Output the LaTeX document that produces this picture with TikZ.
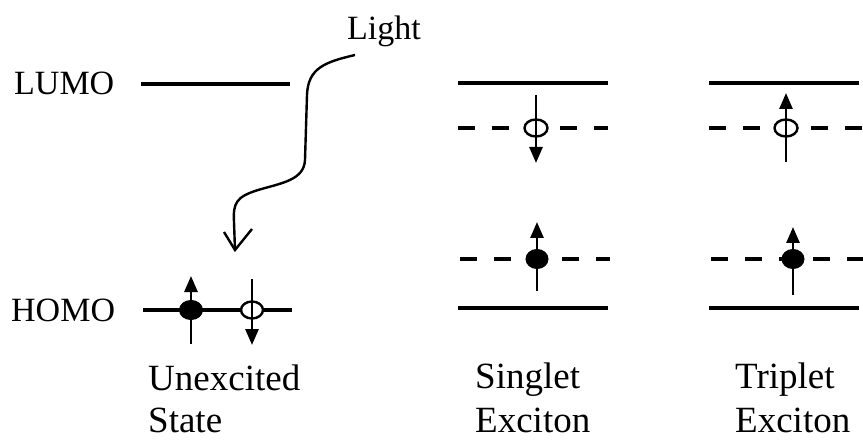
\documentclass[tikz,border=0pt]{standalone}
\usepackage{fontspec}
\setmainfont{Liberation Serif}
\usetikzlibrary{arrows.meta}
\tikzset{
  level/.style={line width=3.2pt},
  dlevel/.style={line width=3.2pt, dash pattern=on 17pt off 17pt},
  spin/.style={line width=2.8pt, -{Triangle[length=16pt,width=13pt]}},
  full/.style={fill=black, draw=black, line width=1pt},
  hole/.style={fill=white, draw=black, line width=2.4pt},
  lbl/.style={anchor=base west, inner sep=0pt, font=\fontsize{37}{42}\selectfont},
  side/.style={anchor=base west, inner sep=0pt, font=\fontsize{34}{40}\selectfont},
  photon/.style={line width=2.4pt}
}
\begin{document}
\begin{tikzpicture}[x=1pt,y=-1pt]
\useasboundingbox (0,0) rectangle (863,441);

% labels
\node[side] (lumo) at (14,95) {LUMO};
\node[side] (homo) at (11,321) {HOMO};
\node[anchor=base west, inner sep=0pt, font=\fontsize{34}{38}\selectfont] (light) at (347,40) {Light};

% unexcited state
\coordinate (l1a) at (141,84); \coordinate (l1b) at (290,84);
\coordinate (h1a) at (143,310); \coordinate (h1b) at (292,310);
\draw[level] (l1a) -- (l1b);
\draw[level] (h1a) -- (h1b);
\draw[full] (191,310) ellipse [x radius=11.5pt, y radius=9.5pt];
\coordinate (u1s) at (191,344); \coordinate (u1e) at (191,276);
\draw[spin] (u1s) -- (u1e);
\draw[hole] (252,310) ellipse [x radius=11pt, y radius=8.5pt];
\coordinate (d1s) at (252,279); \coordinate (d1e) at (252,345);
\draw[spin] (d1s) -- (d1e);

% light
\coordinate (ls) at (355,55);
\coordinate (lt) at (235,250);
\draw[photon] (ls) .. controls (325,62) and (308,68) .. (307,95)
  -- (305,160) .. controls (304,180) and (282,183) .. (258,190)
  .. controls (236,197) and (233,203) .. (234,222) -- (lt);
\coordinate (barbL) at (224,232); \coordinate (barbR) at (252,229);
\draw[photon] (barbL) -- (lt) -- (barbR);

\node[lbl] (un1) at (148,390) {Unexcited};
\node[lbl] (un2) at (148,432) {State};

% singlet
\draw[level] (458,83) -- (608,83);
\draw[dlevel] (458,128) -- (608,128);
\draw[dlevel] (460,259) -- (610,259);
\draw[level] (458,308) -- (608,308);
\draw[hole] (536,128) ellipse [x radius=11.5pt, y radius=8.5pt];
\coordinate (s1s) at (536,95); \coordinate (s1e) at (536,163);
\draw[spin] (s1s) -- (s1e);
\draw[full] (537,259) ellipse [x radius=11pt, y radius=9.5pt];
\coordinate (s2s) at (537,291); \coordinate (s2e) at (537,222);
\draw[spin] (s2s) -- (s2e);
\node[lbl] (si1) at (475,388) {Singlet};
\node[lbl] (si2) at (475,432) {Exciton};

% triplet
\draw[level] (709,83) -- (859,83);
\draw[dlevel] (709,128) -- (863,128);
\draw[dlevel] (711,259) -- (863,259);
\draw[level] (709,308) -- (859,308);
\draw[hole] (786,128) ellipse [x radius=11.5pt, y radius=8.5pt];
\coordinate (t1s) at (786,162); \coordinate (t1e) at (786,93);
\draw[spin] (t1s) -- (t1e);
\draw[full] (793,259) ellipse [x radius=11pt, y radius=9.5pt];
\coordinate (t2s) at (793,295); \coordinate (t2e) at (793,227);
\draw[spin] (t2s) -- (t2e);
\node[lbl] (tr1) at (735,388) {Triplet};
\node[lbl] (tr2) at (735,432) {Exciton};
\end{tikzpicture}
\end{document}
